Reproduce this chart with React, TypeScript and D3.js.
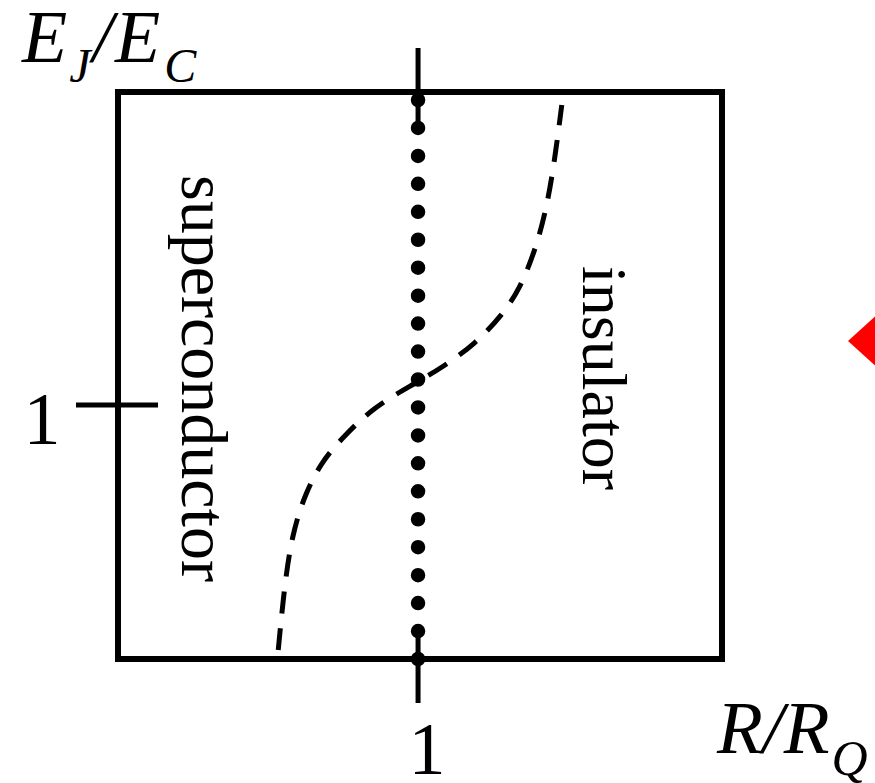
import React from "react";
import * as d3 from "d3";

// Phase diagram of a resistively shunted Josephson junction
const W = 875;
const H = 783;

// Axis domains (R/R_Q horizontally, E_J/E_C vertically)
const xDomain = [0, 2.013];
const yDomain = [0, 2.232];

// Tick positions and their labels
const xTicks = [1];
const yTicks = [1];
const xTickLabels = ["1"];
const yTickLabels = ["1"];

// Critical line R = R_Q (dotted)
const criticalR = 1;

// Crossover boundary (dashed): R/R_Q vs E_J/E_C
const boundaryR = [0.534, 0.555, 0.58, 0.62, 0.676, 0.748, 0.851, 0.984, 1.084, 1.19, 1.28, 1.34, 1.39, 1.424, 1.452, 1.479];
const boundaryE = [0.035, 0.291, 0.487, 0.64, 0.773, 0.871, 0.991, 1.081, 1.15, 1.24, 1.353, 1.458, 1.609, 1.752, 1.933, 2.181];

// Phase names
const phaseLabels = ["superconductor", "insulator"];

export default function App() {
  const x = d3.scaleLinear().domain(xDomain).range([118, 722]);
  const y = d3.scaleLinear().domain(yDomain).range([659, 92]);

  const pts: [number, number][] = boundaryR.map((r, i) => [r, boundaryE[i]]);
  const line = d3
    .line<[number, number]>()
    .x((d) => x(d[0]))
    .y((d) => y(d[1]))
    .curve(d3.curveBasis);

  const [x0, x1] = x.range();
  const [yb, yt] = y.range();
  const serif = "'Liberation Serif', 'DejaVu Serif', serif";

  return (
    <svg
      width={W}
      height={H}
      viewBox={`0 0 ${W} ${H}`}
      style={{ position: "absolute", left: 0, top: 0, background: "#fff" }}
      fontFamily={serif}
    >
      <rect x={0} y={0} width={W} height={H} fill="#fff" />

      {/* dotted critical line */}
      <line
        x1={x(criticalR)}
        x2={x(criticalR)}
        y1={yt + 8}
        y2={yb + 0.5}
        stroke="#000"
        strokeWidth={14.5}
        strokeLinecap="round"
        strokeDasharray="0 27.95"
      />

      {/* dashed crossover boundary */}
      <path
        d={line(pts) ?? ""}
        fill="none"
        stroke="#000"
        strokeWidth={5}
        strokeDasharray="22 15"
      />

      {/* frame */}
      <rect x={x0} y={yt} width={x1 - x0} height={yb - yt} fill="none" stroke="#000" strokeWidth={6} />

      {/* x ticks, top and bottom */}
      {xTicks.map((t, i) => (
        <g key={"xt" + i}>
          <line x1={x(t)} x2={x(t)} y1={yt - 44} y2={yt + 30} stroke="#000" strokeWidth={5} />
          <line x1={x(t)} x2={x(t)} y1={yb - 27} y2={yb + 44} stroke="#000" strokeWidth={5} />
          <text x={x(t) + 9} y={774} fontSize={74} textAnchor="middle" fill="#000">
            {xTickLabels[i]}
          </text>
        </g>
      ))}

      {/* y ticks */}
      {yTicks.map((t, i) => (
        <g key={"yt" + i}>
          <line x1={x0 - 42} x2={x0 + 40} y1={y(t)} y2={y(t)} stroke="#000" strokeWidth={5} />
          <text x={42} y={444} fontSize={74} textAnchor="middle" fill="#000">
            {yTickLabels[i]}
          </text>
        </g>
      ))}

      {/* phase names */}
      <text transform="translate(182,175) rotate(90)" fontSize={66} fill="#000">
        {phaseLabels[0]}
      </text>
      <text transform="translate(583,266) rotate(90)" fontSize={64} fill="#000">
        {phaseLabels[1]}
      </text>

      {/* axis titles */}
      <text x={22} y={62} fontSize={74} fill="#000">
        <tspan fontStyle="italic">E</tspan>
        <tspan fontStyle="italic" fontSize={48} dy={20} dx={2}>J</tspan>
        <tspan fontStyle="italic" dy={-20} dx={2}>/</tspan>
        <tspan fontStyle="italic" dx={2}>E</tspan>
        <tspan fontStyle="italic" fontSize={48} dy={20} dx={4}>C</tspan>
      </text>
      <text x={717} y={753} fontSize={75} fill="#000">
        <tspan fontStyle="italic">R</tspan>
        <tspan fontStyle="italic">/</tspan>
        <tspan fontStyle="italic">R</tspan>
        <tspan fontStyle="italic" fontSize={50} dy={22} dx={2}>Q</tspan>
      </text>

      {/* red pointer at the right edge */}
      <polygon points="848,341 880,312 880,370" fill="#ff0000" />
    </svg>
  );
}
